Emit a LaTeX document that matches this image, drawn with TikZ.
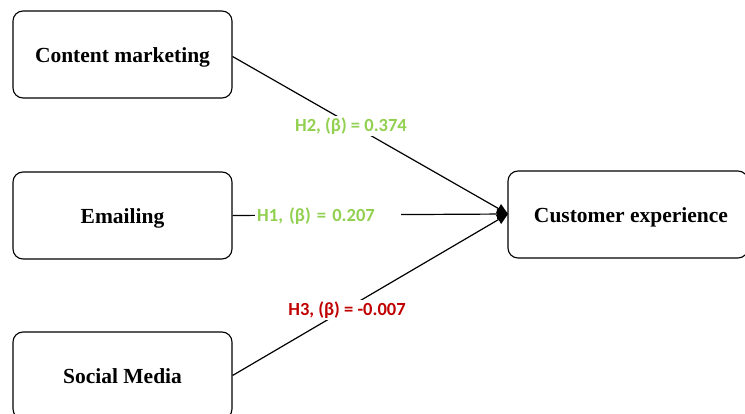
\documentclass[tikz,border=0pt]{standalone}
\usepackage{fontspec}
\setmainfont{Liberation Serif}
\newfontfamily\lblfont{Carlito}
\usetikzlibrary{arrows.meta}
\definecolor{lgreen}{RGB}{146,208,80}
\definecolor{dred}{RGB}{192,0,0}
\begin{document}
\begin{tikzpicture}[x=1pt,y=-1pt,
  box/.style={draw, line width=1.1pt, rounded corners=10pt, minimum width=219pt, minimum height=87pt, font=\fontsize{21.5}{24}\selectfont\bfseries, inner sep=0pt, text height=16pt, text depth=0pt},
  conn/.style={line width=1.2pt, -{Triangle[length=11pt,width=10pt]}},
  lbl/.style={fill=white, font=\lblfont\fontsize{18.5}{20}\selectfont\bfseries, inner sep=2pt}]
\useasboundingbox (0,0) rectangle (745,414);
\node[box] (cm) at (122.5,54.5) {Content marketing};
\node[box] (em) at (122.5,215.5) {Emailing};
\node[box] (sm) at (122.5,375.5) {Social Media};
\node[box, minimum width=240pt] (ce) at (628,214.5) {\hspace*{6pt}Customer experience};
\coordinate (tip) at (508,214);
\draw[conn] (cm.east) ++(0,2) coordinate (a1) -- (tip);
\draw[conn] (em.east) -- (tip);
\draw[conn] (sm.east) -- (tip);
\node[lbl, text=lgreen] (l2) at (351,126) {H2, (β) = 0.374};
\node[lbl, text=lgreen, anchor=west, text width=142pt, align=left] (l1) at (255,216) {H1, (β) = 0.207};
\node[lbl, text=dred] (l3) at (347,310) {H3, (β) = -0.007};
\end{tikzpicture}
\end{document}
